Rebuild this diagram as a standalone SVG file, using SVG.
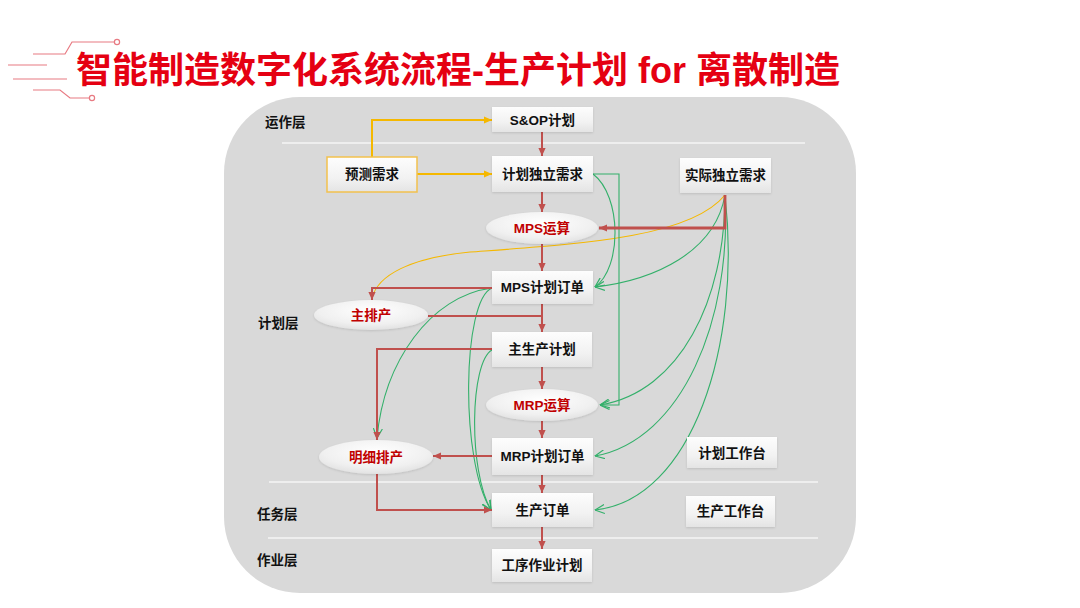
<svg xmlns="http://www.w3.org/2000/svg" width="1080" height="608" viewBox="0 0 1080 608">
<defs>
<style>
.t{font-family:"Liberation Sans","Noto Sans CJK SC",sans-serif;font-weight:bold;font-size:13.5px;fill:#111;text-anchor:middle}
.tr{fill:#c00000}
.lay{font-family:"Liberation Sans","Noto Sans CJK SC",sans-serif;font-weight:bold;font-size:13.5px;fill:#111}
.box{fill:url(#gb);filter:url(#sh)}
.ell{fill:url(#ge);filter:url(#sh)}
.red{fill:none;stroke:#c0504d;stroke-width:2}
.yel{fill:none;stroke:#f5b800;stroke-width:2}
.grn{fill:none;stroke:#33b06a;stroke-width:1.1}
.sep{stroke:#eeeeee;stroke-width:2}
.deco{fill:none;stroke:#e87a82;stroke-width:1.2}
</style>
<linearGradient id="gb" x1="0" y1="0" x2="0" y2="1">
<stop offset="0" stop-color="#fdfdfd"/><stop offset="0.6" stop-color="#f2f2f2"/><stop offset="1" stop-color="#e4e4e4"/>
</linearGradient>
<radialGradient id="ge" cx="0.5" cy="0.35" r="0.65">
<stop offset="0" stop-color="#ffffff"/><stop offset="0.7" stop-color="#f0f0f0"/><stop offset="1" stop-color="#e2e2e2"/>
</radialGradient>
<filter id="sh" x="-10%" y="-20%" width="120%" height="150%">
<feDropShadow dx="0" dy="1" stdDeviation="1" flood-color="#000" flood-opacity="0.12"/>
</filter>
<marker id="ar" viewBox="0 0 10 10" refX="10" refY="5" markerWidth="8" markerHeight="8" markerUnits="userSpaceOnUse" orient="auto"><path d="M0,0.5 L10,5 L0,9.5 z" fill="#c0504d"/></marker>
<marker id="ay" viewBox="0 0 10 10" refX="10" refY="5" markerWidth="8" markerHeight="8" markerUnits="userSpaceOnUse" orient="auto"><path d="M0,0.5 L10,5 L0,9.5 z" fill="#f5b800"/></marker>
<marker id="ag" viewBox="0 0 10 10" refX="9.5" refY="5" markerWidth="10" markerHeight="10" markerUnits="userSpaceOnUse" orient="auto"><path d="M0,0.5 L9.5,5 L0,9.5" fill="none" stroke="#33b06a" stroke-width="1.2"/></marker>
</defs>

<rect width="1080" height="608" fill="#ffffff"/>

<g id="title">
<path class="deco" d="M33,54 H65 L72,42 H114"/>
<circle cx="117" cy="42" r="2.6" fill="#fff" stroke="#e87a82" stroke-width="1.2"/>
<path class="deco" d="M8,65 H47"/>
<path class="deco" d="M13,79 H67"/>
<path class="deco" d="M33,90 H60 L70,98 H89"/>
<circle cx="92" cy="98" r="2.6" fill="#fff" stroke="#e87a82" stroke-width="1.2"/>
<text x="76" y="83" font-family="'Liberation Sans','Noto Sans CJK SC',sans-serif" font-weight="bold" font-size="36" fill="#e50012">智能制造数字化系统流程-生产计划 for 离散制造</text>
</g>

<g id="background">
<rect x="224" y="97" width="632" height="496" rx="76" ry="76" fill="#d9d9d9"/>
<line class="sep" x1="282" y1="143" x2="805" y2="143"/>
<line class="sep" x1="269" y1="482" x2="818" y2="482"/>
<line class="sep" x1="268" y1="538" x2="818" y2="538"/>
</g>

<g id="layers">
<text class="lay" x="265" y="127">运作层</text>
<text class="lay" x="258" y="328">计划层</text>
<text class="lay" x="257" y="519">任务层</text>
<text class="lay" x="257" y="565">作业层</text>
</g>

<g id="connectors">
<!-- yellow -->
<path class="yel" d="M372,157 V120 H492" marker-end="url(#ay)"/>
<path class="yel" d="M417,174 H492" marker-end="url(#ay)"/>
<path fill="none" stroke="#f5b800" stroke-width="1.1" d="M725,195 C690,238 580,244 470,252 C410,258 378,275 372,298"/>
<!-- green -->
<path class="grn" d="M593,174 H619 V405 H600" marker-end="url(#ag)"/>
<path class="grn" d="M593,174 C622,196 622,268 595,287" marker-end="url(#ag)"/>
<path class="grn" d="M725,195 C715,252 655,280 595,287" marker-end="url(#ag)"/>
<path class="grn" d="M725,195 C725,300 680,392 600,405" marker-end="url(#ag)"/>
<path class="grn" d="M725,195 C732,320 682,440 595,456" marker-end="url(#ag)"/>
<path class="grn" d="M725,195 C742,345 692,500 595,510" marker-end="url(#ag)"/>
<path class="grn" d="M492,288 C430,296 384,362 377,438" marker-end="url(#ag)"/>
<path class="grn" d="M492,288 C462,300 460,462 491,510" marker-end="url(#ag)"/>
<path class="grn" d="M492,350 C470,362 468,470 491,510" marker-end="url(#ag)"/>
<!-- red -->
<path class="red" d="M542,132 V156" marker-end="url(#ar)"/>
<path class="red" d="M542,192 V212" marker-end="url(#ar)"/>
<path class="red" d="M542,244 V271" marker-end="url(#ar)"/>
<path fill="none" stroke="#c0504d" stroke-width="2.8" d="M725,195 V228 H599" marker-end="url(#ar)"/>
<path class="red" d="M492,288 H372 V300" marker-end="url(#ar)"/>
<path class="red" d="M542,304 V332" marker-end="url(#ar)"/>
<path class="red" d="M428,316 H542"/>
<path class="red" d="M492,349 H377 V440" marker-end="url(#ar)"/>
<path class="red" d="M542,367 V389" marker-end="url(#ar)"/>
<path class="red" d="M542,421 V438" marker-end="url(#ar)"/>
<path class="red" d="M492,456 H433" marker-end="url(#ar)"/>
<path class="red" d="M377,473 V510 H492" marker-end="url(#ar)"/>
<path class="red" d="M542,475 V493" marker-end="url(#ar)"/>
<path class="red" d="M542,527 V549" marker-end="url(#ar)"/>
</g>

<g id="n-sop"><rect class="box" x="492" y="107" width="101" height="25"/><text class="t" x="542.5" y="124.5">S&amp;OP计划</text></g>
<g id="n-forecast"><rect x="327" y="157" width="90" height="35" fill="url(#gb)" stroke="#f2c14e" stroke-width="1.5"/><text class="t" x="372" y="179">预测需求</text></g>
<g id="n-pir"><rect class="box" x="492" y="156" width="101" height="36"/><text class="t" x="542.5" y="179">计划独立需求</text></g>
<g id="n-actual"><rect class="box" x="680" y="158" width="91" height="35"/><text class="t" x="725.5" y="180">实际独立需求</text></g>
<g id="n-mpsrun"><ellipse class="ell" cx="542" cy="228" rx="56" ry="16"/><text class="t tr" x="542" y="233">MPS运算</text></g>
<g id="n-mpsorder"><rect class="box" x="492" y="271" width="101" height="33"/><text class="t" x="542.5" y="292">MPS计划订单</text></g>
<g id="n-mainsched"><ellipse class="ell" cx="371" cy="315" rx="57" ry="15"/><text class="t tr" x="371" y="320">主排产</text></g>
<g id="n-mps"><rect class="box" x="492" y="332" width="100" height="35"/><text class="t" x="542" y="354">主生产计划</text></g>
<g id="n-mrprun"><ellipse class="ell" cx="542" cy="405" rx="56" ry="16"/><text class="t tr" x="542" y="410">MRP运算</text></g>
<g id="n-mrporder"><rect class="box" x="492" y="438" width="101" height="37"/><text class="t" x="542.5" y="461">MRP计划订单</text></g>
<g id="n-detail"><ellipse class="ell" cx="376" cy="457" rx="57" ry="17"/><text class="t tr" x="376" y="462">明细排产</text></g>
<g id="n-planbench"><rect class="box" x="687" y="437" width="90" height="31"/><text class="t" x="732" y="458">计划工作台</text></g>
<g id="n-prodorder"><rect class="box" x="492" y="493" width="101" height="34"/><text class="t" x="542.5" y="515">生产订单</text></g>
<g id="n-prodbench"><rect class="box" x="686" y="496" width="89" height="31"/><text class="t" x="730.5" y="516">生产工作台</text></g>
<g id="n-oper"><rect class="box" x="492" y="549" width="100" height="33"/><text class="t" x="542" y="570">工序作业计划</text></g>
</svg>
